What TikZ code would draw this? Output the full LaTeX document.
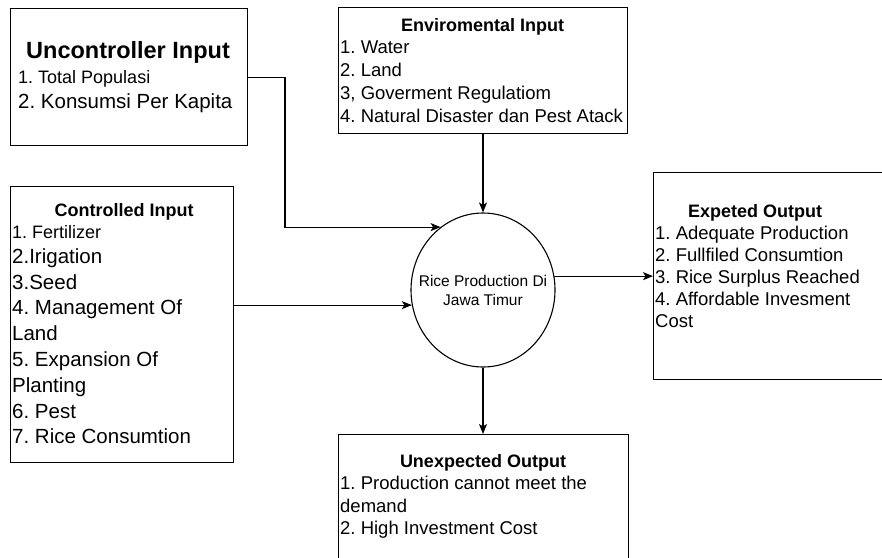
\documentclass[tikz,border=0pt]{standalone}
\usepackage{fontspec}
\setmainfont{Liberation Sans}
\usetikzlibrary{arrows.meta,shapes.geometric}
\frenchspacing

\tikzset{
  box/.style={draw=black, line width=1.1pt, rectangle, inner sep=0pt, anchor=north west},
  hd/.style={font=\bfseries\fontsize{18}{18}\selectfont, inner sep=0pt, text height=12.9pt, text depth=0pt},
  hdbig/.style={font=\bfseries\fontsize{23.5}{23.5}\selectfont, inner sep=0pt, text height=16.8pt, text depth=0pt},
  li/.style={anchor=west, inner sep=0pt, font=\fontsize{18.5}{18.5}\selectfont, text height=13.2pt, text depth=0pt},
  lisml/.style={li, font=\fontsize{18}{18}\selectfont, text height=12.9pt},
  libig/.style={li, font=\fontsize{20.5}{20.5}\selectfont, text height=14.7pt},
  core/.style={draw=black, line width=1.1pt, ellipse, inner sep=0pt, minimum width=144pt, minimum height=154pt},
  coretext/.style={align=center, inner sep=0pt, font=\fontsize{15.5}{19}\selectfont},
  conn/.style={line width=1.1pt, -{Stealth[length=10pt,width=8pt,inset=2.5pt]}},
}

\begin{document}
\begin{tikzpicture}[x=1pt, y=-1pt]
  \fill[white] (0,0) rectangle (882,557);
  \useasboundingbox (0,0) rectangle (882,557);

  % uncontrolled input
  \node[box, minimum width=237pt, minimum height=137pt] (unc) at (10,8) {};
  \node[hdbig] (unct) at (128,50) {Uncontroller Input};
  \node[lisml] (unc1) at (18,77) {1. Total Populasi};
  \node[libig] (unc2) at (18,101) {2. Konsumsi Per Kapita};

  % environmental input
  \node[box, minimum width=289pt, minimum height=126pt] (env) at (338,7) {};
  \node[hd] (envt) at (482.5,25) {Enviromental Input};
  \node[li] (env1) at (340,47) {1. Water};
  \node[li] (env2) at (340,70) {2. Land};
  \node[li] (env3) at (340,93) {3, Goverment Regulatiom};
  \node[li] (env4) at (340,116) {4. Natural Disaster dan Pest Atack};

  % controlled input
  \node[box, minimum width=223pt, minimum height=276pt] (ctl) at (10,186) {};
  \node[hd] (ctlt) at (124,210) {Controlled Input};
  \node[lisml] (ctl1) at (12,232) {1. Fertilizer};
  \node[libig] (ctl2) at (12,256) {2.Irigation};
  \node[libig] (ctl3) at (12,281.8) {3.Seed};
  \node[libig] (ctl4) at (12,307.6) {4. Management Of};
  \node[libig] (ctl5) at (12,333.4) {Land};
  \node[libig] (ctl6) at (12,359.2) {5. Expansion Of};
  \node[libig] (ctl7) at (12,385) {Planting};
  \node[libig] (ctl8) at (12,410.8) {6. Pest};
  \node[libig] (ctl9) at (12,436.6) {7. Rice Consumtion};

  % process
  \node[core] (rice) at (483,290) {};
  \node[coretext] (ricet) at (483,290.5) {Rice Production Di\\Jawa Timur};

  % expected output
  \node[box, minimum width=240pt, minimum height=207pt] (exp) at (653,172) {};
  \node[hd] (expt) at (755,211) {Expeted Output};
  \node[li] (exp1) at (655,233) {1. Adequate Production};
  \node[li] (exp2) at (655,255) {2. Fullfiled Consumtion};
  \node[li] (exp3) at (655,277) {3. Rice Surplus Reached};
  \node[li] (exp4) at (655,299) {4. Affordable Invesment};
  \node[li] (exp5) at (655,321) {Cost};

  % unexpected output
  \node[box, minimum width=290pt, minimum height=140pt] (unx) at (338,434) {};
  \node[hd] (unxt) at (483,461) {Unexpected Output};
  \node[li] (unx1) at (340,483) {1. Production cannot meet the};
  \node[li] (unx2) at (340,506) {demand};
  \node[li] (unx3) at (340,528) {2. High Investment Cost};

  % connectors
  \coordinate (uncbend) at (285,0);
  \draw[conn] (unc.east) -- (unc.east -| uncbend) |- (rice.124.7);
  \draw[conn] (env.south -| rice.north) -- (rice.north);
  \draw[conn] (ctl.east |- rice.192.8) -- (rice.192.8);
  \draw[conn] (rice.11.2) -- (rice.11.2 -| exp.west);
  \draw[conn] (rice.south) -- (rice.south |- unx.north);
\end{tikzpicture}
\end{document}
